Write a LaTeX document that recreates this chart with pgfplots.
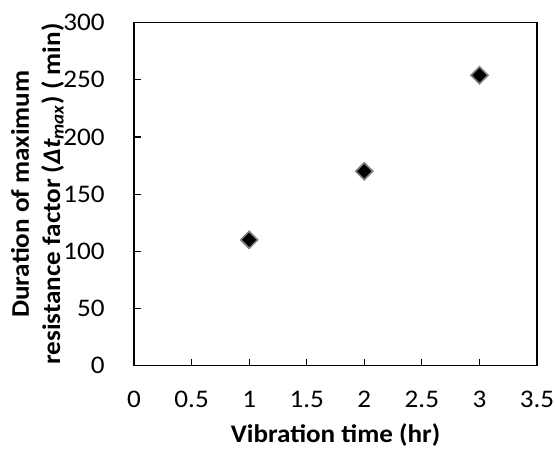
\documentclass[border=0pt]{standalone}
\usepackage{pgfplots}
\pgfplotsset{compat=1.18}
\usepackage{fontspec}
\setmainfont{Carlito}[FakeStretch=1.07]
\begin{document}
\begin{tikzpicture}
\begin{axis}[
  scale only axis,
  width=302pt, height=257pt,
  xmin=0, xmax=3.5, ymin=0, ymax=300,
  xtick={0,0.5,...,3.5},
  ytick={0,50,...,300},
  tick align=inside,
  xtick pos=bottom, ytick pos=left,
  major tick length=5pt,
  axis line style={line width=1.2pt},
  every tick/.style={black, line width=0.9pt},
  tick label style={font=\fontsize{19}{21}\selectfont},
  xticklabel style={inner xsep=0pt},
  /pgf/number format/assume math mode=true,
  xticklabel shift=15.5pt,
  yticklabel shift=18.5pt,
  xlabel={\textbf{Vibration time (hr)}},
  ylabel={\textbf{Duration of maximum}\\\textbf{resistance factor (\textit{Δt}\textsubscript{\textit{max}}) ( min)}},
  ylabel style={align=center, font=\fontsize{19}{23.5}\selectfont,
    at={(axis description cs:0,0.5)}, anchor=south, yshift=49pt},
  xlabel style={font=\fontsize{19}{21}\selectfont, yshift=-5pt},
]
\addplot[only marks, mark=square*, mark size=4.5pt,
  mark options={rotate=45, fill=black, draw=gray, line width=1.2pt}]
  coordinates {(1,110) (2,170) (3,254)};
\end{axis}
\path ([xshift=-100.5pt,yshift=17pt]current axis.north west) rectangle ([xshift=13.5pt,yshift=-58pt]current axis.south east);
\end{tikzpicture}
\end{document}
